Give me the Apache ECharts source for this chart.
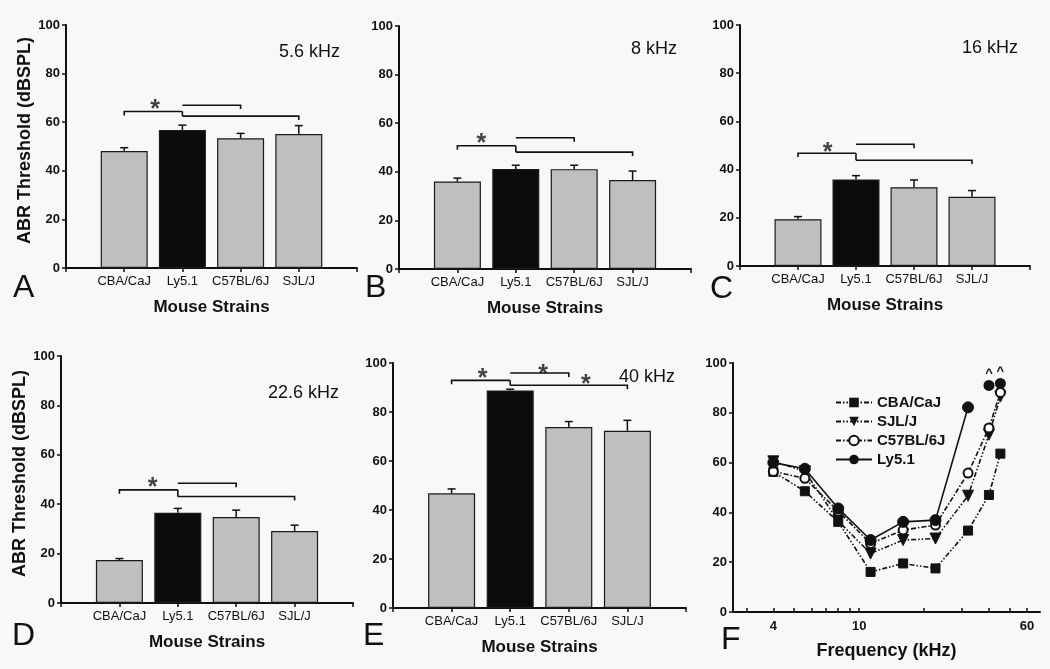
<!DOCTYPE html>
<html><head><meta charset="utf-8">
<script src="https://cdn.jsdelivr.net/npm/echarts@6/dist/echarts.min.js"></script>
<style>html,body{margin:0;padding:0;background:#f8f8f8}#c{width:1050px;height:669px}</style>
</head><body><div id="c"></div>
<script>
// ---------- DATA ----------
const strains = ['CBA/CaJ', 'Ly5.1', 'C57BL/6J', 'SJL/J'];
const yTickValues = [0, 20, 40, 60, 80, 100];

// Panel A – 5.6 kHz
const meanA = [48.1, 56.8, 53.4, 55.1];
const semA  = [1.4, 2.0, 2.0, 3.5];
const brA   = [64.4, 67.0, 62.5];          // CBA–Ly, Ly–C57, Ly–SJL bracket levels
const starA = [[1.53, 67.5]];
// Panel B – 8 kHz
const meanB = [36.0, 41.2, 41.1, 36.6];
const semB  = [1.4, 1.5, 1.6, 3.7];
const brB   = [50.7, 54.0, 48.1];
const starB = [[1.41, 53.8]];
// Panel C – 16 kHz
const meanC = [19.4, 35.9, 32.7, 28.7];
const semC  = [1.1, 1.6, 3.0, 2.6];
const brC   = [46.8, 50.5, 43.9];
const starC = [[1.51, 49.4]];
// Panel D – 22.6 kHz
const meanD = [17.4, 36.5, 34.8, 29.1];
const semD  = [0.6, 1.8, 2.8, 2.4];
const brD   = [45.8, 48.5, 43.1];
const starD = [[1.57, 48.8]];
// Panel E – 40 kHz
const meanE = [46.8, 88.8, 73.9, 72.3];
const semE  = [1.8, 0.5, 2.2, 4.3];
const brE   = [92.9, 95.9, 90.9];
const starE = [[1.53, 96.0], [2.56, 97.7], [3.29, 93.4]];

const freqTitles = ['5.6 kHz', '8 kHz', '16 kHz', '22.6 kHz', '40 kHz'];
const panelLetters = ['A', 'B', 'C', 'D', 'E', 'F'];

// Panel F – audiogram
const freqs = [4, 5.6, 8, 11.3, 16, 22.6, 32, 40, 45.2];
const fCBA  = [56.3, 48.5, 36.2, 16.1, 19.5, 17.5, 32.7, 47.0, 63.6];
const fSJL  = [60.5, 56.5, 36.5, 23.5, 28.9, 29.5, 46.7, 71.2, 86.5];
const fC57  = [56.4, 53.7, 40.5, 27.5, 32.9, 34.9, 55.8, 73.9, 88.2];
const fLy   = [60.0, 57.5, 41.6, 28.9, 36.2, 36.9, 82.2, null, null];
const fLyAboveFreq = [40, 45.2];
const fLyAboveVal  = [91.0, 91.8];
const freqTicks  = [3, 4, 5, 6, 7, 8, 9, 10, 20, 30, 40, 50, 60];
const freqLabels = [4, 10, 60];

// ---------- LAYOUT / STYLE ----------
const FONT = 'Liberation Sans, Arial, sans-serif';
const INK = '#111';
const grids = [
  {left: 66,  top: 25,  width: 291, height: 243},
  {left: 399, top: 26,  width: 292, height: 243},
  {left: 740, top: 25,  width: 290, height: 241},
  {left: 61,  top: 356, width: 292, height: 247},
  {left: 393, top: 363, width: 293, height: 245},
  {left: 733, top: 363, width: 307, height: 249}
];
const panels = [
  {mean: meanA, sem: semA, br: brA, star: starA},
  {mean: meanB, sem: semB, br: brB, star: starB},
  {mean: meanC, sem: semC, br: brC, star: starC},
  {mean: meanD, sem: semD, br: brD, star: starD},
  {mean: meanE, sem: semE, br: brE, star: starE}
];
const titlePos = [[279, 52], [631, 49], [962, 48], [268, 393], [619, 377]];
const letterPos = [[13, 288], [365, 288], [710, 289], [12, 636], [363, 636], [721, 640]];

const xAxes = [], yAxes = [], series = [];
const axisLine = {show: true, onZero: false, lineStyle: {color: INK, width: 2}};

panels.forEach((p, i) => {
  xAxes.push({
    gridIndex: i, type: 'value', min: 0, max: 5, interval: 1,
    axisLine, splitLine: {show: false},
    axisTick: {show: true, inside: false, length: 4, lineStyle: {color: INK, width: 1.5}},
    axisLabel: {show: true, margin: 7, fontFamily: FONT, fontSize: 13, color: INK,
      formatter: v => strains[v - 1] || ''},
    name: 'Mouse Strains', nameLocation: 'middle', nameGap: 31,
    nameTextStyle: {fontFamily: FONT, fontSize: 17, fontWeight: 'bold', color: INK}
  });
  yAxes.push({
    gridIndex: i, type: 'value', min: 0, max: 100, interval: 20,
    axisLine, splitLine: {show: false},
    axisTick: {show: true, inside: false, length: 4, lineStyle: {color: INK, width: 1.5}},
    axisLabel: {margin: 6, fontFamily: FONT, fontSize: 13, fontWeight: 'bold', color: INK},
    name: (i === 0 || i === 3) ? 'ABR Threshold (dBSPL)' : '',
    nameLocation: 'middle', nameGap: 32,
    nameTextStyle: {fontFamily: FONT, fontSize: 18, fontWeight: 'bold', color: INK, padding: [0, 0, 0, 12]}
  });
  // bars
  series.push({
    type: 'bar', xAxisIndex: i, yAxisIndex: i, barWidth: 47,
    data: p.mean.map((m, k) => ({
      value: [k + 1, m],
      itemStyle: {color: k === 1 ? '#0b0b0b' : '#bfbfbf', borderColor: '#1a1a1a', borderWidth: 1.2}
    }))
  });
  // error bars (upper half)
  series.push({
    type: 'custom', xAxisIndex: i, yAxisIndex: i, z: 5,
    data: p.mean.map((m, k) => [k + 1, m, m + p.sem[k]]),
    renderItem(params, api) {
      const x = api.value(0);
      const a = api.coord([x, api.value(1)]), b = api.coord([x, api.value(2)]);
      const st = {stroke: INK, lineWidth: 1.5};
      return {type: 'group', children: [
        {type: 'line', shape: {x1: a[0], y1: a[1], x2: b[0], y2: b[1]}, style: st},
        {type: 'line', shape: {x1: b[0] - 4, y1: b[1], x2: b[0] + 4, y2: b[1]}, style: st}
      ]};
    }
  });
  // significance brackets
  const d = 1.6, L = p.br;
  series.push({
    type: 'custom', xAxisIndex: i, yAxisIndex: i, z: 6,
    data: [
      [1, 2, L[0] - d, L[0], L[0]],
      [2, 3, L[1], L[1], L[1] - d],
      [2, 4, L[2], L[2], L[2] - d],
      [2, 2, L[0], L[0], L[2]]
    ],
    renderItem(params, api) {
      const x1 = api.value(0), x2 = api.value(1);
      const pts = [
        api.coord([x1, api.value(2)]), api.coord([x1, api.value(3)]),
        api.coord([x2, api.value(3)]), api.coord([x2, api.value(4)])
      ];
      return {type: 'polyline', shape: {points: pts}, style: {stroke: INK, lineWidth: 1.6, fill: null}};
    }
  });
  // stars
  series.push({
    type: 'scatter', xAxisIndex: i, yAxisIndex: i, z: 7, symbolSize: 0,
    data: p.star,
    label: {show: true, position: 'inside', formatter: '*', offset: [0, 6],
      fontFamily: FONT, fontSize: 25, fontWeight: 'bold', color: INK}
  });
});

// Panel F axes
xAxes.push({
  gridIndex: 5, type: 'log', min: 2.6, max: 69,
  axisLine, splitLine: {show: false}, minorTick: {show: false},
  axisTick: {show: true, inside: true, length: 4, customValues: freqTicks, lineStyle: {color: INK, width: 1.5}},
  axisLabel: {margin: 8, customValues: freqLabels, fontFamily: FONT, fontSize: 13, fontWeight: 'bold', color: INK,
    formatter: v => String(Math.round(v))},
  name: 'Frequency (kHz)', nameLocation: 'middle', nameGap: 30,
  nameTextStyle: {fontFamily: FONT, fontSize: 18, fontWeight: 'bold', color: INK}
});
yAxes.push({
  gridIndex: 5, type: 'value', min: 0, max: 100, interval: 20,
  axisLine, splitLine: {show: false},
  axisTick: {show: true, inside: false, length: 4, lineStyle: {color: INK, width: 1.5}},
  axisLabel: {margin: 6, fontFamily: FONT, fontSize: 13, fontWeight: 'bold', color: INK}
});
const pair = arr => freqs.map((f, k) => [f, arr[k]]);
const fLine = (name, arr, symbol, size, dash, extra) => Object.assign({
  type: 'line', name, xAxisIndex: 5, yAxisIndex: 5, data: pair(arr),
  symbol, symbolSize: size, showAllSymbol: true,
  lineStyle: {color: INK, width: 1.6, type: dash},
  itemStyle: {color: INK, borderColor: INK}
}, extra || {});
series.push(fLine('CBA/CaJ', fCBA, 'rect', 9, [5, 2, 1.5, 2, 1.5, 2], {z: 3}));
series.push(fLine('SJL/J', fSJL, 'triangle', 11, [5, 2, 1.5, 2, 1.5, 2], {symbolRotate: 180, z: 4}));
series.push(fLine('C57BL/6J', fC57, 'emptyCircle', 9, [5, 2, 1.5, 2],
  {z: 5, itemStyle: {color: INK, borderColor: INK, borderWidth: 2}}));
series.push(fLine('Ly5.1', fLy, 'circle', 11, 'solid', {z: 6}));
series.push({
  type: 'scatter', name: 'Ly5.1 above', xAxisIndex: 5, yAxisIndex: 5, z: 7,
  data: fLyAboveFreq.map((f, k) => [f, fLyAboveVal[k]]),
  symbol: 'circle', symbolSize: 11, itemStyle: {color: INK, opacity: 1},
  label: {show: true, position: 'top', distance: 0, formatter: '^',
    fontFamily: FONT, fontSize: 13, fontWeight: 'bold', color: INK}
});

// annotations: frequency titles and panel letters
const graphics = [];
freqTitles.forEach((t, i) => graphics.push({
  type: 'text', x: titlePos[i][0], y: titlePos[i][1],
  style: {text: t, fontFamily: FONT, fontSize: 18, fill: INK, textVerticalAlign: 'middle'}
}));
panelLetters.forEach((t, i) => graphics.push({
  type: 'text', x: letterPos[i][0], y: letterPos[i][1],
  style: {text: t, fontFamily: FONT, fontSize: 32, fill: INK, textVerticalAlign: 'middle'}
}));

const chart = echarts.init(document.getElementById('c'), null, {renderer: 'canvas'});
chart.setOption({
  backgroundColor: '#f8f8f8',
  animation: false,
  grid: grids,
  xAxis: xAxes,
  yAxis: yAxes,
  legend: {
    orient: 'vertical', left: 835, top: 395, padding: 0,
    itemWidth: 36, itemHeight: 12, itemGap: 4,
    data: ['CBA/CaJ', 'SJL/J', 'C57BL/6J', 'Ly5.1'],
    textStyle: {fontFamily: FONT, fontSize: 15, fontWeight: 'bold', color: INK}
  },
  graphic: graphics,
  series
});
</script></body></html>
